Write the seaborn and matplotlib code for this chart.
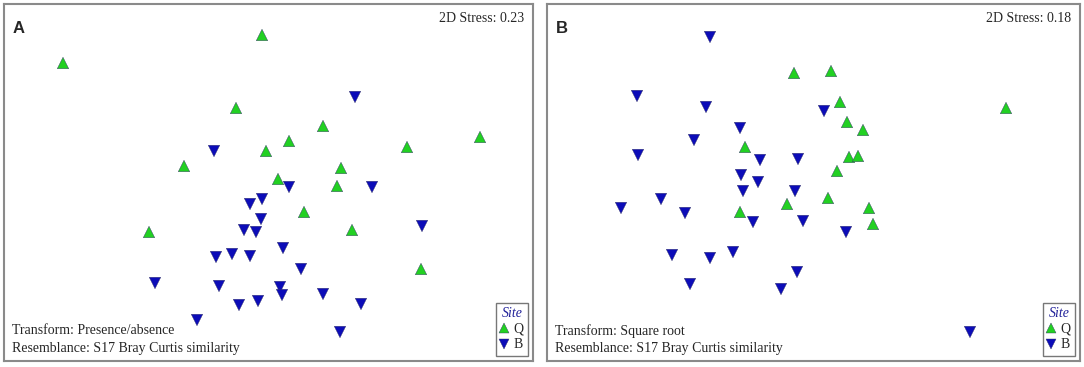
import numpy as np
import pandas as pd
import matplotlib
matplotlib.use('Agg')
import matplotlib.pyplot as plt
import seaborn as sns

# nMDS ordination coordinates (plot units)
a_q_x = [63, 262, 236, 323, 480, 289, 407, 266, 184, 341, 278, 337, 304, 149, 352, 421]
a_q_y = [63, 35, 108, 126, 137, 141, 147, 151, 166, 168, 179, 186, 212, 232, 230, 269]
a_b_x = [355, 214, 289, 372, 262, 250, 261, 244, 256, 422, 283, 216, 232, 250, 301,
         155, 219, 280, 282, 323, 239, 258, 361, 197, 340]
a_b_y = [97, 151, 187, 187, 199, 204, 219, 230, 232, 226, 248, 257, 254, 256, 269,
         283, 286, 287, 295, 294, 305, 301, 304, 320, 332]

b_q_x = [254, 291, 300, 466, 307, 323, 205, 309, 318, 297, 288, 247, 329, 200, 333]
b_q_y = [73, 71, 102, 108, 122, 130, 147, 157, 156, 171, 198, 204, 208, 212, 224]
b_b_x = [170, 97, 166, 284, 200, 154, 98, 220, 258, 201, 218, 203, 255, 121, 81,
         145, 213, 263, 306, 132, 170, 193, 257, 150, 241, 430]
b_b_y = [37, 96, 107, 111, 128, 140, 155, 160, 159, 175, 182, 191, 191, 199, 208,
         213, 222, 221, 232, 255, 258, 252, 272, 284, 289, 332]

panels = ['A', 'B']
stress = ['0.23', '0.18']
transforms = ['Presence/absence', 'Square root']
sites = ['Q', 'B']

def make_df(qx, qy, bx, by):
    return pd.DataFrame({'x': qx + bx, 'y': qy + by,
                         'site': ['Q'] * len(qx) + ['B'] * len(bx)})

data = [make_df(a_q_x, a_q_y, a_b_x, a_b_y), make_df(b_q_x, b_q_y, b_b_x, b_b_y)]

sns.set_style('white')
pal = {'Q': '#22d022', 'B': '#0c0cb8'}
marks = {'Q': '^', 'B': 'v'}

W, H = 1084, 367
fig = plt.figure(figsize=(W / 100, H / 100), dpi=100)
boxes = [(4, 4, 533, 361), (547, 4, 1080, 361)]
origins = [0, 540]

for i, (l, t, r, b) in enumerate(boxes):
    ax = fig.add_axes([l / W, 1 - b / H, (r - l) / W, (b - t) / H])
    df = data[i]
    sns.scatterplot(data=df, x='x', y='y', hue='site', style='site', hue_order=sites,
                    style_order=sites, palette=pal, markers=marks, s=68,
                    edgecolor='#333366', linewidth=0.3, ax=ax)
    ax.set_xlim(l - origins[i], r - origins[i])
    ax.set_ylim(b, t)
    ax.set_xticks([])
    ax.set_yticks([])
    ax.set_xlabel('')
    ax.set_ylabel('')
    for sp in ax.spines.values():
        sp.set_color('#8a8a8a')
        sp.set_linewidth(1.5)

    ax.text(0.017, 0.93, panels[i], transform=ax.transAxes, fontsize=12,
            fontweight='bold', family='Liberation Sans', va='center')
    ax.text(0.983, 0.958, '2D Stress: ' + stress[i], transform=ax.transAxes,
            fontsize=10, family='Liberation Serif', ha='right', va='center')
    ax.text(0.015, 0.085, 'Transform: ' + transforms[i], transform=ax.transAxes,
            fontsize=10, family='Liberation Serif', va='center')
    ax.text(0.015, 0.035, 'Resemblance: S17 Bray Curtis similarity',
            transform=ax.transAxes, fontsize=10, family='Liberation Serif', va='center')

    handles, labels = ax.get_legend_handles_labels()
    leg = ax.legend(handles, labels, title='Site', loc='lower right',
                    bbox_to_anchor=(0.99, 0.015), frameon=True, fancybox=False,
                    handlelength=0.6, handletextpad=0.35, borderpad=0.3,
                    labelspacing=0.2, borderaxespad=0.0, markerscale=0.85,
                    prop={'family': 'Liberation Serif', 'size': 10})
    leg.get_frame().set_edgecolor('#555555')
    leg.get_frame().set_linewidth(1.0)
    leg.get_title().set_fontstyle('italic')
    leg.get_title().set_family('Liberation Serif')
    leg.get_title().set_color('#22229a')
    leg.get_title().set_fontsize(10)

fig.savefig('out.png', dpi=100)
